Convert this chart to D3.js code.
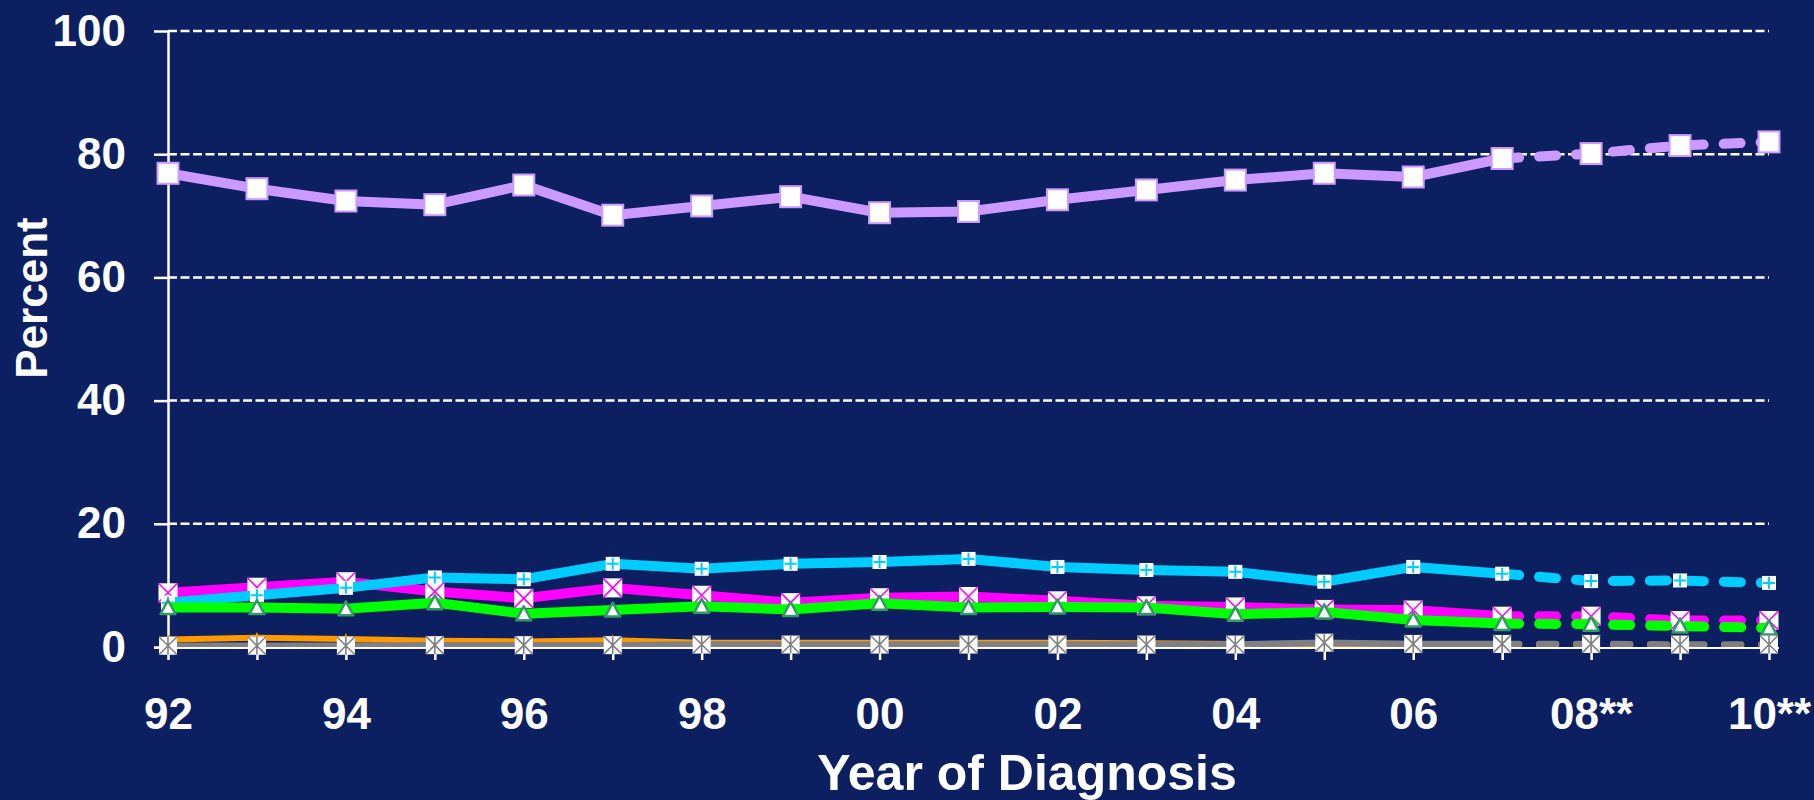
<!DOCTYPE html>
<meta charset="UTF-8">
<script src="https://d3js.org/d3.v7.min.js"></script>
<body style="margin:0;background:#0b1f61">
<div id="chart"></div>
</body>
<script>

// data
var years = [1992,1993,1994,1995,1996,1997,1998,1999,2000,2001,2002,2003,2004,2005,2006,2007,2008,2009,2010];
var yearLabels = ["92","","94","","96","","98","","00","","02","","04","","06","","08**","","10**"];
var yTicks = [0,20,40,60,80,100];

var lavender = [76.9,74.4,72.4,71.8,75.0,70.1,71.6,73.1,70.5,70.7,72.6,74.2,75.8,76.9,76.3,79.3,80.1,81.4,82.0];
var cyan     = [7.2,8.4,9.6,11.3,11.0,13.5,12.7,13.5,13.8,14.3,13.0,12.5,12.2,10.6,13.0,11.9,10.7,10.8,10.4];
var magenta  = [8.8,9.7,10.6,9.0,7.9,9.6,8.4,7.2,8.0,8.2,7.5,6.7,6.5,6.1,6.0,5.0,5.0,4.3,4.3];
var green    = [6.4,6.4,6.2,7.2,5.4,6.0,6.6,6.1,7.1,6.4,6.5,6.4,5.3,5.7,4.4,3.8,3.7,3.4,3.1];
var orange   = [1.2,1.5,1.3,1.0,0.9,1.1,0.7,0.7,0.7,0.7,0.7,0.6,0.5,0.4,0.3,0.3,0.3,0.3,0.3];
var grey     = [0.2,0.2,0.2,0.3,0.3,0.3,0.4,0.4,0.4,0.4,0.4,0.4,0.4,0.7,0.5,0.5,0.5,0.4,0.4];

var dashFrom = 15; // 2007 onwards projected (dashed)

var width = 1814, height = 800;
var font = "'Liberation Sans', Arial, sans-serif";

var svg = d3.select("#chart").append("svg")
  .attr("width", width)
  .attr("height", height)
  .style("display","block");

svg.append("rect").attr("width", width).attr("height", height).attr("fill", "#0b1f61");

var x = d3.scaleLinear().domain([1992, 2010]).range([168, 1769]);
var y = d3.scaleLinear().domain([0, 100]).range([647, 31]);

// gridlines
svg.append("g").selectAll("line")
  .data(yTicks.filter(function(d){ return d > 0; }))
  .enter().append("line")
    .attr("x1", x(1992)).attr("x2", x(2010))
    .attr("y1", function(d){ return y(d); })
    .attr("y2", function(d){ return y(d); })
    .attr("stroke", "white")
    .attr("stroke-width", 2.5)
    .attr("stroke-dasharray", "9,3.5");

// y axis
var yAxis = svg.append("g")
  .attr("transform", "translate(" + x(1992) + ",0)")
  .call(d3.axisLeft(y).tickValues(yTicks).tickSize(14).tickPadding(28).tickSizeOuter(0));
yAxis.select(".domain").attr("stroke", "white").attr("stroke-width", 2.5);
yAxis.selectAll(".tick line").attr("stroke", "white").attr("stroke-width", 2.5);
yAxis.selectAll(".tick text")
  .attr("fill", "white")
  .style("font-family", font)
  .style("font-weight", "bold")
  .style("font-size", "44px");

// axis titles
svg.append("text")
  .attr("transform", "translate(47,298) rotate(-90)")
  .attr("text-anchor", "middle")
  .attr("fill", "white")
  .style("font-family", font)
  .style("font-weight", "bold")
  .style("font-size", "44px")
  .text("Percent");

svg.append("text")
  .attr("x", 1027).attr("y", 790)
  .attr("text-anchor", "middle")
  .attr("fill", "white")
  .style("font-family", font)
  .style("font-weight", "bold")
  .style("font-size", "50px")
  .text("Year of Diagnosis");

// series
var line = d3.line()
  .x(function(d){ return x(d[0]); })
  .y(function(d){ return y(d[1]); });

function drawSeries(values, color, lw, marker) {
  var pts = years.map(function(yr, i){ return [yr, values[i]]; });
  var g = svg.append("g");
  g.append("path")
    .attr("d", line(pts.slice(0, dashFrom + 1)))
    .attr("fill", "none")
    .attr("stroke", color)
    .attr("stroke-width", lw)
    .attr("stroke-linejoin", "round");
  g.append("path")
    .attr("d", line(pts.slice(dashFrom)))
    .attr("fill", "none")
    .attr("stroke", color)
    .attr("stroke-width", lw)
    .attr("stroke-linecap", "round")
    .attr("stroke-dasharray", "17,20");
  var m = g.selectAll("g.m").data(pts).enter().append("g")
    .attr("transform", function(d){ return "translate(" + x(d[0]) + "," + y(d[1]) + ")"; });
  marker(m);
}

function squareMarker(size, stroke, sw) {
  return function(m) {
    m.append("rect")
      .attr("x", -size / 2).attr("y", -size / 2)
      .attr("width", size).attr("height", size)
      .attr("fill", "white")
      .attr("stroke", stroke || "none")
      .attr("stroke-width", sw || 0);
  };
}

// x axis (drawn before the low series so markers sit over the ticks' tops)
var xAxis = svg.append("g")
  .attr("transform", "translate(0," + y(0) + ")")
  .call(d3.axisBottom(x).tickValues(years).tickSize(13).tickPadding(38).tickSizeOuter(0)
    .tickFormat(function(d, i){ return yearLabels[i]; }));
xAxis.select(".domain").remove();
xAxis.selectAll(".tick line").attr("stroke", "white").attr("stroke-width", 2.5);
xAxis.selectAll(".tick text")
  .attr("fill", "white")
  .style("font-family", font)
  .style("font-weight", "bold")
  .style("font-size", "44px");

drawSeries(magenta, "#ff00ff", 10, function(m){
  squareMarker(19)(m);
  m.append("path").attr("d", "M-9.5,-9.5L9.5,9.5M9.5,-9.5L-9.5,9.5")
    .attr("stroke", "#ff00ff").attr("stroke-width", 1.6);
});

drawSeries(cyan, "#00ccff", 10, function(m){
  squareMarker(14)(m);
  m.append("path").attr("d", "M-6,0H6M0,-6V6")
    .attr("stroke", "#00ccff").attr("stroke-width", 2);
});

drawSeries(green, "#00ff00", 10, function(m){
  m.append("path").attr("d", "M0,-7.5L7.5,6.5H-7.5Z")
    .attr("fill", "white")
    .attr("stroke", "#339966")
    .attr("stroke-width", 2.5)
    .attr("stroke-linejoin", "round");
});

drawSeries(orange, "#ff9900", 6, function(m){
  m.append("path").attr("d", "M0,-6L4,4H-4Z").attr("fill", "#ff9900");
});

drawSeries(grey, "#808080", 6.5, function(m){});

// zero baseline over the grey line
svg.append("line")
  .attr("x1", x(1992) - 14).attr("x2", x(2010) + 10)
  .attr("y1", y(0) + 1).attr("y2", y(0) + 1)
  .attr("stroke", "white").attr("stroke-width", 2);

// grey markers sit on top of the baseline
svg.append("g").selectAll("g")
  .data(years.map(function(yr, i){ return [yr, grey[i]]; }))
  .enter().append("g")
    .attr("transform", function(d){ return "translate(" + x(d[0]) + "," + y(d[1]) + ")"; })
    .call(function(m){
      squareMarker(18)(m);
      m.append("path").attr("d", "M-9,-9L9,9M9,-9L-9,9M0,-9V9")
        .attr("stroke", "#808080").attr("stroke-width", 1.6);
    });

drawSeries(lavender, "#cc99ff", 10, squareMarker(21, "#cc99ff", 2));

</script>
